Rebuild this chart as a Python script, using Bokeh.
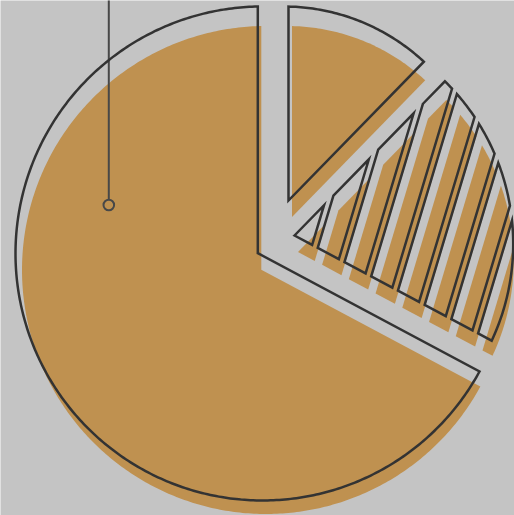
import numpy as np
from bokeh.plotting import figure
from bokeh.models import Range1d
from bokeh.embed import file_html
from bokeh.resources import INLINE

# ---------------- data ----------------
slice_names = ["Top", "Striped", "Main"]
slice_shares = [12.3, 20.5, 67.2]          # percent, clockwise from 12 o'clock
slice_striped = [False, True, False]

# ---------------- layout / style (pixels, y up, origin = main arc centre) ----------------
PIE_CX_PX, PIE_CY_PX = 262, 253            # where the pie centre sits in the window
OFF_X, OFF_Y = 0, 0                        # page offset of the figure
W, H = 514, 515
slice_apex = [(26.0, 53.0), (32.0, 18.0), (-4.7, 0.3)]
slice_arc_center = [(21.0, 41.0), (22.7, 9.5), (0.0, 0.0)]
slice_radius = [206.0, 228.0, 247.0]

SHADOW_DX, SHADOW_DY, SHADOW_DR = 3.5, -16.5, -3.0
HATCH_ANGLE = 73.3
HATCH_PERIOD = 29.7
HATCH_WIDTH = 23.5
HATCH_PHASE = -3.9
SHADOW_INSET = 1.0

BG = "#C4C4C4"
TAN = "#BF9150"
INK = "#333333"
CALLOUT = "#484848"
callout_x, callout_y, callout_r = -153.7, 48.5, 5.3


def wedge(apex, center, R, a0, a1):
    ax, ay = apex
    cx, cy = center

    def hit(a):
        d = np.array([np.cos(np.radians(a)), np.sin(np.radians(a))])
        w = np.array([ax - cx, ay - cy])
        b = d @ w
        t = -b + np.sqrt(b * b - (w @ w - R * R))
        return ax + t * d[0], ay + t * d[1]

    p0, p1 = hit(a0), hit(a1)
    f0 = np.degrees(np.arctan2(p0[1] - cy, p0[0] - cx))
    f1 = np.degrees(np.arctan2(p1[1] - cy, p1[0] - cx))
    while f1 > f0:
        f1 -= 360
    k = max(8, int(abs(f0 - f1) * 1.5))
    f = np.radians(np.linspace(f0, f1, k))
    return [(ax, ay)] + list(zip(cx + R * np.cos(f), cy + R * np.sin(f)))


def clip_half(poly, n, c, sign):
    out = []
    m = len(poly)
    for i in range(m):
        P, Q = poly[i], poly[(i + 1) % m]
        fp = sign * (n[0] * P[0] + n[1] * P[1] - c)
        fq = sign * (n[0] * Q[0] + n[1] * Q[1] - c)
        if fp >= 0:
            out.append(P)
        if (fp >= 0) != (fq >= 0):
            t = fp / (fp - fq)
            out.append((P[0] + t * (Q[0] - P[0]), P[1] + t * (Q[1] - P[1])))
    return out


def strips(poly, apex, inset, shift):
    th = np.radians(HATCH_ANGLE)
    n = (np.sin(th), -np.cos(th))
    base = n[0] * apex[0] + n[1] * apex[1] + shift
    pmax = max(n[0] * x + n[1] * y for x, y in poly)
    res = []
    k = 0
    while True:
        lo = base + HATCH_PHASE + k * HATCH_PERIOD + inset
        hi = base + HATCH_PHASE + k * HATCH_PERIOD + HATCH_WIDTH - inset
        if lo >= pmax:
            break
        q = clip_half(poly, n, lo, 1)
        if q:
            q = clip_half(q, n, hi, -1)
        if len(q) >= 3:
            res.append(q)
        k += 1
    return res


# angles from data
cum = np.concatenate([[0], np.cumsum(slice_shares)])
total = cum[-1]
starts = 90 - 360 * cum[:-1] / total
ends = 90 - 360 * cum[1:] / total

fill_xs, fill_ys, line_xs, line_ys = [], [], [], []
for i in range(len(slice_shares)):
    ap, ce, R = slice_apex[i], slice_arc_center[i], slice_radius[i]
    outline = wedge(ap, ce, R, starts[i], ends[i])
    sap = (ap[0] + SHADOW_DX, ap[1] + SHADOW_DY)
    sce = (ce[0] + SHADOW_DX, ce[1] + SHADOW_DY)
    shadow = wedge(sap, sce, R + SHADOW_DR, starts[i], ends[i])
    if slice_striped[i]:
        th = np.radians(HATCH_ANGLE)
        shift = np.sin(th) * SHADOW_DX - np.cos(th) * SHADOW_DY
        outs = strips(outline, ap, 0.0, 0.0)
        fills = strips(shadow, ap, SHADOW_INSET, shift)
    else:
        outs, fills = [outline], [shadow]
    for q in fills:
        fill_xs.append([x for x, _ in q])
        fill_ys.append([y for _, y in q])
    for q in outs:
        line_xs.append([x for x, _ in q])
        line_ys.append([y for _, y in q])

p = figure(width=W, height=H, output_backend="svg", toolbar_location=None,
           x_range=Range1d(OFF_X - PIE_CX_PX, OFF_X + W - PIE_CX_PX),
           y_range=Range1d(PIE_CY_PX - (OFF_Y + H), PIE_CY_PX - OFF_Y),
           x_axis_location=None, y_axis_location=None, min_border=0)
p.grid.visible = False
p.outline_line_color = None
p.background_fill_color = BG
p.border_fill_color = BG

p.patches(fill_xs, fill_ys, fill_color=TAN, line_color=None)
p.segment(x0=[callout_x], y0=[PIE_CY_PX + 5], x1=[callout_x], y1=[callout_y + callout_r],
          line_color=CALLOUT, line_width=2)
p.circle(x=[callout_x], y=[callout_y], radius=callout_r, fill_color=None,
         line_color=CALLOUT, line_width=2)
p.patches(line_xs, line_ys, fill_color=None, line_color=INK, line_width=2.5,
          line_join="miter")

open("out.html", "w").write(file_html(p, INLINE))
